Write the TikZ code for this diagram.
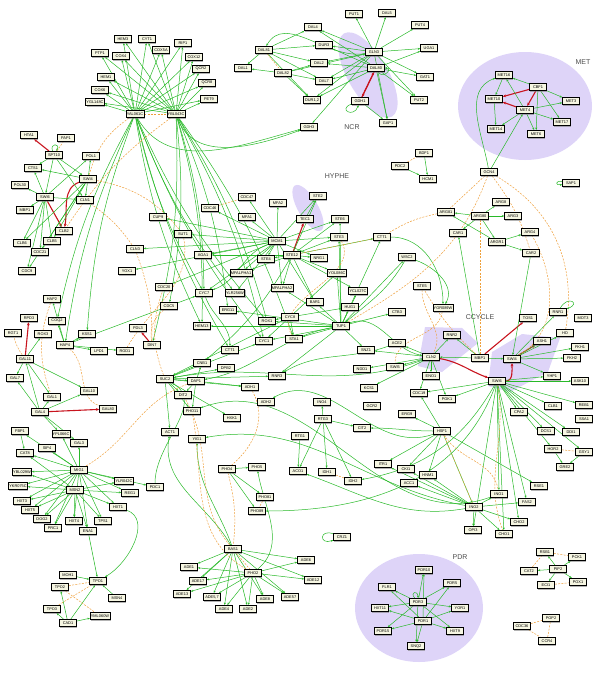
\documentclass[tikz,border=0pt]{standalone}
\usepackage{fontspec}
\setmainfont{Liberation Sans}
\usetikzlibrary{shadows,arrows.meta}
\pgfdeclarelayer{back}\pgfdeclarelayer{mid}
\pgfsetlayers{back,mid,main}
\definecolor{lav}{RGB}{222,212,248}
\definecolor{eg}{RGB}{40,185,40}
\definecolor{eo}{RGB}{238,160,60}
\definecolor{er}{RGB}{200,20,30}
\definecolor{cream}{RGB}{246,246,226}
\newcommand\fanout[3]{\foreach \t in {#3} \draw[#1] (#2) to (\t);}
\begin{document}
\begin{tikzpicture}[x=1pt,y=-1pt,
 n/.style={draw=black,line width=0.6pt,fill=cream,inner sep=0.8pt,minimum height=7.5pt,minimum width=17pt,font=\fontsize{3.9}{4.5}\selectfont,drop shadow={shadow xshift=0.9pt,shadow yshift=-0.9pt,opacity=0.6}},
 e/.style={draw=eg,line width=0.5pt,-{Stealth[length=2.4pt,width=2pt]}},
 d/.style={draw=eo,line width=0.5pt,dash pattern=on 2pt off 1.3pt},
 r/.style={draw=er,line width=1.1pt,-{Stealth[length=3.2pt,width=2.8pt]}},
 lbl/.style={font=\fontsize{7}{8}\selectfont,text=black!70}]
\useasboundingbox (0,0) rectangle (600,673);
\begin{pgfonlayer}{back}
\fill[lav] (525,106) ellipse [x radius=67,y radius=54];
\fill[lav,rotate around={-60:(368,75)}] (368,75) ellipse [x radius=48,y radius=20];
\fill[lav,rotate around={-60:(308,208)}] (308,208) ellipse [x radius=26,y radius=10];
\fill[lav] (419,608) ellipse [x radius=64,y radius=54];
\fill[lav] (425,327)--(462,328)--(478,343)--(442,372)--(418,366)--cycle;
\fill[lav] (492,352)--(522,334)--(560,338)--(548,372)--(510,392)--(488,386)--cycle;
\end{pgfonlayer}
\node[lbl] (tMET) at (583,62) {MET};
\node[lbl] (tNCR) at (352,127) {NCR};
\node[lbl] (tHYP) at (337,176) {HYPHE};
\node[lbl] (tCC) at (480,317) {CCYCLE};
\node[lbl] (tPDR) at (460,557) {PDR};
% nodes
\node[n](HEMa)at(123,39){HEM3};\node[n](CYT1)at(147,39){CYT1};\node[n](RIP1)at(183,43){RIP1};
\node[n](PTP1)at(100,53){PTP1};\node[n](COX4)at(121,56){COX4};\node[n](COX5)at(161,50){COX5A};
\node[n](COX2)at(194,57){COX12};\node[n](QCR2)at(201,69){QCR2};\node[n](QCR8)at(207,83){QCR8};
\node[n](PET9)at(209,99){PET9};\node[n](HEM1)at(106,77){HEM1};\node[n](COX6)at(100,90){COX6};
\node[n](YGL)at(95,102){YGL148C};\node[n](hA)at(135,114){YAL061C};\node[n](hB)at(176,114){YBL043C};
\node[n](HTA1)at(29,135){HTA1};\node[n](PAP1)at(66,138){PAP1};\node[n](SPT10)at(54,155){SPT10};
\node[n](POL1)at(91,156){POL1};\node[n](CTS1)at(33,168){CTS1};\node[n](SWIa)at(88,179){SWI4};
\node[n](POL30)at(20,185){POL30};\node[n](SWIb)at(45,197){SWI6};\node[n](CLN1)at(85,200){CLN1};
\node[n](MBP1)at(25,210){MBP1};\node[n](CLB2)at(64,231){CLB2};\node[n](CLB6)at(22,243){CLB6};
\node[n](CLB5)at(52,241){CLB5};\node[n](CDC21)at(40,252){CDC21};\node[n](CDC9)at(27,271){CDC9};
\node[n](DAL81)at(264,50){DAL81};\node[n](DAL1)at(243,68){DAL1};\node[n](DAL82)at(283,73){DAL82};
\node[n](PUT1)at(354,14){PUT1};\node[n](DAL5)at(387,13){DAL5};\node[n](PUT4)at(420,25){PUT4};
\node[n](DAL4)at(313,27){DAL4};\node[n](DUR3)at(324,45){DUR3};\node[n](GLN3)at(374,52){GLN3};
\node[n](UGA1)at(429,48){UGA1};\node[n](DAL2)at(319,63){DAL2};\node[n](DAL80)at(376,68){DAL80};
\node[n](DAL7)at(324,81){DAL7};\node[n](GAT1)at(425,77){GAT1};\node[n](DUR12)at(312,100){DUR1,2};
\node[n](GDH1)at(360,101){GDH1};\node[n](PUT2)at(419,100){PUT2};\node[n](GAP1)at(388,123){GAP1};
\node[n](GDH3)at(309,127){GDH3};
\node[n](MET16)at(504,75){MET16};\node[n](CBF1)at(538,87){CBF1};\node[n](MET10)at(494,99){MET10};
\node[n](MET3)at(571,101){MET3};\node[n](MET4)at(525,110){MET4};\node[n](MET17)at(562,122){MET17};
\node[n](MET14)at(496,129){MET14};\node[n](MET6)at(536,134){MET6};\node[n](GCN4)at(489,172){GCN4};
\node[n](SDP1)at(424,153){BDF1};\node[n](PEO1)at(400,166){PDC2};\node[n](HCM1)at(428,179){HCM1};
\node[n](SAP1)at(571,183){SAP1};
\node[n](STE2)at(318,196){STE2};\node[n](TEC1)at(305,219){TEC1};\node[n](STE6)at(340,219){STE6};
\node[n](STE3)at(339,237){STE3};\node[n](CTR1)at(382,237){CTT1};
\node[n](ARG81)at(446,212){ARG81};\node[n](ARG8)at(501,202){ARG8};\node[n](ARG80)at(480,216){ARG80};
\node[n](ARG3)at(513,216){ARG3};\node[n](CAR1)at(458,233){CAR1};\node[n](ARG4)at(530,232){ARG4};
\node[n](ARG82)at(497,242){ARGR1};\node[n](CAR2)at(531,253){CAR2};
\node[n](CUP9)at(158,217){CUP9};\node[n](CDC46)at(210,208){CDC46};\node[n](CDC47)at(247,197){CDC47};
\node[n](MFA2)at(278,203){MFA2};\node[n](MFA1)at(247,217){MFA1};\node[n](SUT1)at(183,234){SUT1};
\node[n](MCM1)at(277,241){MCM1};\node[n](AGA1)at(203,255){AGA1};\node[n](STE12)at(292,255){STE12};
\node[n](STE4)at(266,259){STE4};\node[n](NRG1)at(319,258){NRG1};\node[n](CLN3)at(135,249){CLN3};
\node[n](YOX1)at(127,271){YOX1};\node[n](MFa1)at(241,273){MFALPHA1};\node[n](YOL86)at(337,273){YOL086C};
\node[n](MFa2)at(282,288){MFALPHA2};\node[n](CDC20)at(164,287){CDC20};\node[n](CYC7)at(204,293){CYC7};
\node[n](YLR256)at(235,293){YLR256W};\node[n](WSC2)at(407,257){WSC2};\node[n](YCL27)at(358,291){YCL027C};
\node[n](CTB4)at(422,286){STE5};\node[n](HAP2)at(52,299){HAP2};\node[n](CDC5)at(169,306){CDC5};
\node[n](BAR1)at(315,302){BAR1};\node[n](HUG1)at(350,307){HUG1};\node[n](ERG11)at(228,310){ERG11};
\node[n](YGR89)at(443,308){YGR089W};\node[n](CTB3)at(397,312){CTB3};
\node[n](RPD3)at(29,318){RPD3};\node[n](CYC8)at(290,317){CYC8};\node[n](ROX1)at(267,321){ROX1};
\node[n](COQ2)at(57,321){COQ2};\node[n](HEM13)at(202,326){HEM13};\node[n](TUP1)at(341,326){TUP1};
\node[n](POL3)at(138,328){PDL3};\node[n](RGT1)at(13,333){RGT1};\node[n](ROX3)at(43,334){ROX3};
\node[n](KSS1)at(87,334){KSS1};\node[n](STA1)at(294,339){STA1};\node[n](CYC1)at(264,341){CYC1};
\node[n](HAP4)at(65,345){HAP4};\node[n](DIN7)at(152,345){DIN7};\node[n](CTA)at(230,350){CTT1};
\node[n](LPD1)at(99,351){LPD1};\node[n](RGD1)at(125,351){RGD1};\node[n](SNZ1)at(366,350){SNZ1};
\node[n](ACE2)at(397,343){ACE2};\node[n](RNR2)at(452,335){RNR2};\node[n](GAL11)at(25,359){GAL11};
\node[n](CNB1)at(202,363){CNB1};\node[n](DPB2)at(226,368){DPB2};\node[n](RNR3)at(277,376){RNR3};
\node[n](CLN2)at(431,357){CLN2};\node[n](TOS1)at(528,318){TOS1};\node[n](RNR1)at(558,312){RNR1};
\node[n](MOT3)at(583,318){MOT3};\node[n](HO)at(565,333){HO};\node[n](ASH1)at(542,341){ASH1};
\node[n](FKH1)at(580,347){FKH1};\node[n](SWI5)at(395,367){SWI5};\node[n](NDD1)at(362,369){NDD1};
\node[n](ENO1)at(431,376){ENO1};\node[n](MBPc)at(480,358){MBP1};\node[n](SWI4c)at(512,359){SWI4};
\node[n](FKH2)at(572,358){FKH2};\node[n](YHP1)at(552,376){YHP1};\node[n](SWI6c)at(497,381){SWI6};
\node[n](ASK10)at(580,381){ASK10};\node[n](GAL7)at(15,378){GAL7};\node[n](SUC2)at(165,379){SUC2};
\node[n](DAP1)at(196,381){DAP1};\node[n](ADH1)at(250,387){ADH1};\node[n](KCS1)at(369,388){KCS1};
\node[n](GAL1)at(52,397){GAL1};\node[n](GAL10)at(89,391){GAL10};\node[n](DIT2)at(183,395){DIT2};
\node[n](CDC19)at(419,393){CDC19};\node[n](PGK1)at(447,399){PGK1};\node[n](ADH2)at(266,402){ADH2};
\node[n](INO4)at(322,402){INO4};\node[n](GCR2)at(372,406){GCR2};\node[n](OPI2)at(553,406){CLB1};
\node[n](REB1)at(584,405){REB1};\node[n](GAL4)at(40,412){GAL4};\node[n](GAL80)at(108,409){GAL80};
\node[n](PHO11)at(192,411){PHO11};\node[n](CPA2)at(519,412){CPA2};\node[n](HXK1)at(232,418){HXK1};
\node[n](RTG3)at(323,419){RTG3};\node[n](ERG9)at(407,414){ERG9};\node[n](SSA1)at(584,419){SSA1};
\node[n](FBP1)at(20,431){FBP1};\node[n](YPL)at(61,434){YPL066C};\node[n](ACT1)at(170,432){ACT1};
\node[n](HSF1)at(442,431){HSF1};\node[n](DCS1)at(546,431){DCS1};\node[n](DDI1)at(571,432){DDI1};
\node[n](CIT2)at(362,428){CIT2};\node[n](RTG1)at(300,436){RTG1};\node[n](YIG1)at(197,439){YIG1};
\node[n](GAL3)at(79,443){GAL3};\node[n](SIP4)at(47,448){SIP4};\node[n](HOR2)at(553,449){HOR2};
\node[n](GSY1)at(584,452){GSY1};\node[n](CAT8)at(25,453){CAT8};\node[n](GRE2)at(565,467){GRE2};
\node[n](PHO4)at(227,469){PHO4};\node[n](PHO5)at(257,467){PHO5};\node[n](ACO1)at(298,471){ACO1};
\node[n](IDH1)at(327,472){IDH1};\node[n](IDH2)at(353,481){IDH2};\node[n](MIG1)at(79,470){MIG1};
\node[n](YBL29)at(22,472){YBL029W};\node[n](ITR1)at(383,464){ITR1};\node[n](CKI1)at(406,469){CKI1};
\node[n](HNM1)at(428,475){HNM1};\node[n](ACC1)at(409,483){ACC1};\node[n](YLR42)at(124,481){YLR042C};
\node[n](YKR75)at(18,486){YKR075C};\node[n](PDC1)at(155,487){PDC1};\node[n](MSN2)at(75,490){MSN2};
\node[n](REG1)at(130,493){REG1};\node[n](INO1)at(499,494){INO1};\node[n](PHO81)at(265,497){PHO81};
\node[n](RSC2)at(539,486){RSE1};\node[n](HXT3)at(22,501){HXT3};\node[n](INO2)at(474,507){INO2};
\node[n](FAS2)at(527,502){FAS2};\node[n](HXT1)at(118,507){HXT1};\node[n](HXT5)at(30,510){HXT5};
\node[n](PHO89)at(257,511){PHO89};\node[n](DOG2)at(42,519){DOG2};\node[n](HXT4)at(74,521){HXT4};
\node[n](TPS1)at(103,521){TPS1};\node[n](CHO2)at(519,522){CHO2};\node[n](PRC1)at(53,528){PRC1};
\node[n](ENA1)at(88,531){ENA1};\node[n](OPI3)at(473,530){OPI3};\node[n](CHO1)at(504,534){CHO1};
\node[n](CIN5)at(342,537){CRZ1};\node[n](BAS1)at(233,549){BAS1};\node[n](RSB1)at(545,552){RSB1};
\node[n](PCK1)at(577,557){PCK1};\node[n](ADE6)at(306,560){ADE6};\node[n](ADE1)at(189,567){ADE1};
\node[n](PIP2)at(558,569){PIP2};\node[n](CAT2)at(529,571){CAT2};\node[n](PHO2)at(253,573){PHO2};
\node[n](PDR10)at(424,570){PDR10};\node[n](MOH1)at(68,575){MOH1};\node[n](TPO1)at(98,581){TPO1};
\node[n](ADE17)at(198,581){ADE17};\node[n](ADE12)at(313,580){ADE12};\node[n](ECI1)at(546,585){ECI1};
\node[n](POX1)at(578,582){POX1};\node[n](PDR5)at(452,583){PDR5};\node[n](FLR1)at(387,587){FLR1};
\node[n](TPO2)at(60,587){TPO2};\node[n](ADE13)at(182,594){ADE13};\node[n](ADE5)at(212,597){ADE5,7};
\node[n](ADE57)at(290,597){ADE57};\node[n](ADE8)at(265,599){ADE8};\node[n](MSN4)at(117,598){MSN4};
\node[n](PDR3)at(418,602){PDR3};\node[n](YOR1)at(460,608){YOR1};\node[n](HXT11)at(380,608){HXT11};
\node[n](TPO3)at(52,609){TPO3};\node[n](ADE4)at(224,609){ADE4};\node[n](ADE2)at(248,609){ADE2};
\node[n](YML)at(100,616){YML060W};\node[n](POP2)at(551,618){POP2};\node[n](PDR1)at(423,621){PDR1};
\node[n](CAD1)at(68,623){CAD1};\node[n](CDC36)at(522,626){CDC36};\node[n](HXT9)at(455,631){HXT9};
\node[n](PDR15)at(383,631){PDR15};\node[n](CCR4)at(547,641){CCR4};\node[n](SNQ2)at(416,646){SNQ2};
\begin{pgfonlayer}{mid}
\fanout{e}{hA}{HEMa,CYT1,PTP1,COX4,COX5,RIP1,COX2,QCR2,QCR8,PET9,HEM1,COX6,YGL}
\fanout{e}{hB}{HEMa,CYT1,PTP1,COX4,COX5,RIP1,COX2,QCR2,QCR8,PET9,HEM1,COX6,YGL}
\fanout{e,bend right=8}{hA}{CYC7,HAP4,KSS1,COQ2,CTA,HEM13,ROX1,YLR256,CYC1}
\fanout{e,bend left=8}{hB}{CYC7,CDC5,ERG11,HEM13,ROX1,CYC1,DIN7,STA1}
\draw[e] (hB) to[out=-70,in=200] (GDH3);
\draw[e] (hA) to[out=-60,in=195] (GDH3);
\draw[d] (hA) -- (hB);
\draw[d] (hA) to[bend right=20] (SWIa);\draw[d] (hB) to[bend right=10] (CLB2);
\draw[r] (SPT10) -- (HTA1);
\draw[e] (SPT10) to[out=110,in=60,looseness=6] (SPT10);
\draw[d] (SPT10) -- (PAP1);
\draw[r] (SWIa) to[out=200,in=80] (CLB2);\draw[r] (SWIb) -- (CLB2);
\fanout{e}{SPT10}{CTS1,SWIb,SWIa,CLN1}
\fanout{e}{SWIb}{POL30,MBP1,CLB6,CLB5,CDC21,CDC9,CLN1,CTS1,POL1}
\fanout{e}{SWIa}{POL1,CLN1,CLB5,CDC21,CLB6,CTS1,CDC9}
\draw[d] (SWIa) to[bend left=20] (SUT1);\draw[d] (CLN1) to[bend left=10] (CLN3);
\fanout{e}{GLN3}{PUT1,DAL5,PUT4,DAL4,DUR3,UGA1,DAL2,DAL7,GAT1,DUR12,PUT2,GAP1,GDH3}
\fanout{e}{DAL80}{DAL4,DUR3,DAL2,DAL7,DUR12,GAT1,PUT2,GAP1,UGA1}
\draw[r] (DAL80) -- (GDH1);\draw[r] (GDH1) -- (DAL80);
\draw[e] (GDH1) to[out=200,in=250,looseness=5] (GDH1);\draw[e] (GDH1) -- (GAP1);
\fanout{e}{DAL81}{DAL1,DAL4,DUR3,DAL2,DAL7,DUR12}
\fanout{e}{DAL82}{DAL1,DAL2,DAL7,DUR12,GLN3}
\draw[e] (GLN3) to[out=190,in=60] (DAL81);\draw[d] (DAL81) -- (DAL82);
\draw[e] (DAL80) to[out=-60,in=0,looseness=3] (DAL80);
\draw[r] (CBF1) -- (MET10);\draw[r] (CBF1) -- (MET4);\draw[r] (MET4) -- (MET10);
\fanout{e}{CBF1}{MET16,MET3,MET17,MET6}
\fanout{e}{MET4}{MET16,MET14,MET3,MET17,MET6}
\draw[e] (MET16) -- (MET10);\draw[e] (MET10) -- (MET14);
\draw[e] (GCN4) to[out=100,in=200] (MET16);\draw[e] (GCN4) -- (MET4);
\draw[d] (GCN4) -- (ARG81);\draw[d] (GCN4) to[bend left=10] (CAR2);
\draw[d] (GCN4) to[out=-30,in=80] (HO);
\draw[e] (SDP1) -- (HCM1);\draw[e] (PEO1) -- (HCM1);\draw[d] (PEO1) -- (SDP1);
\draw[e] (SAP1) to[out=170,in=190,looseness=6] (SAP1);
\fanout{e}{ARG80}{ARG81,ARG8,ARG3,CAR1,ARG82}
\fanout{e}{ARG82}{CAR2,ARG4,ARG81}
\draw[d] (ARG81) to[bend right=10] (CTR1);
\fanout{e}{MCM1}{CDC47,CDC46,MFA2,MFA1,STE2,STE6,STE3,AGA1,SUT1,MFa1,MFa2,CUP9,STE4,CLN3,YOX1,CDC20,CYC7,YLR256,BAR1,NRG1}
\draw[r] (STE12) -- (TEC1);
\fanout{e}{STE12}{STE2,STE6,STE3,NRG1,MFa2,BAR1,YOL86,MFa1,STE4,AGA1,YCL27,CTR1}
\draw[e] (TEC1) -- (STE2);
\draw[d] (CDC46) -- (CDC47);\draw[d] (STE12) -- (CTR1);
\fanout{e}{TUP1}{STE6,STE3,YOL86,YCL27,HUG1,CTB3,BAR1,STA1,CYC1,ROX1,SNZ1,RNR3,ERG11,HEM13,MFa2,CTR1,WSC2}
\fanout{e}{CYC8}{STA1,ROX1,HUG1,YOL86,CYC1,SUC2}
\draw[e] (WSC2) to[out=-20,in=60] (YGR89);\draw[e] (CTR1) to[out=0,in=90] (YGR89);
\draw[e] (TUP1) to[out=20,in=170] (CLN2);
\draw[r] (CLN2) to[out=-10,in=160] (SWI6c);
\draw[r] (MBPc) -- (TOS1);
\draw[r] (SWI6c) to[out=0,in=-90] (SWI4c);
\draw[r] (SWI4c) -- (ASH1);
\draw[e] (RNR1) to[out=60,in=20,looseness=6] (RNR1);
\fanout{e}{SWI4c}{HO,FKH1,FKH2,YHP1,ASH1,RNR1}
\fanout{e}{MBPc}{RNR2,SWI4c,CLN2}
\fanout{e}{SWI6c}{OPI2,CPA2,YHP1,DCS1,INO1,FAS2,CHO2,CHO1,OPI3,REB1,DDI1,ASK10,HOR2,GSY1,PGK1,CDC19}
\fanout{e}{CLN2}{RNR2,SWI5,NDD1,ENO1,ACE2,KCS1,CDC19,PGK1,SNZ1}
\draw[e] (MBPc) -- (CAR1);\draw[e] (CAR2) -- (SWI4c);
\draw[d] (MBPc) -- (ARG80);\draw[d] (MBPc) to[bend left=8] (CTB4);
\draw[r] (GAL4) -- (GAL80);\draw[r] (GAL11) -- (RPD3);
\fanout{e}{GAL4}{GAL1,GAL7,GAL10,GAL11,GAL3}
\fanout{e}{GAL11}{ROX3,GAL7,GAL1,GAL10}
\fanout{e}{HAP4}{LPD1,KSS1,HAP2,COQ2,RGD1,CYC7}
\draw[r] (DIN7) -- (POL3);
\fanout{e}{SUC2}{DAP1,ADH1,DIT2,CNB1,DPB2,PHO11,ACT1,RNR3,CYC1,HXK1}
\fanout{e}{DAP1}{ADH1,DIT2,CNB1,PHO11}
\draw[d] (SUC2) to[bend left=20] (CDC20);\draw[d] (DIN7) to[bend left=30] (CDC5);
\draw[d] (GAL11) to[bend left=10] (RGT1);\draw[d] (HAP2) to[bend right=20] (GAL1);
\fanout{e}{RTG3}{CIT2,ACO1,IDH1,IDH2,INO4}
\draw[e] (RTG1) -- (ACO1);\draw[d] (IDH1) -- (IDH2);
\fanout{e}{INO2}{ITR1,CKI1,HNM1,ACC1,INO1,FAS2,CHO2,CHO1,OPI3}
\fanout{e}{HSF1}{ITR1,CKI1,HNM1,INO2,ERG9,CDC19,RSC2}
\draw[e] (INO2) to[out=170,in=10] (YIG1);\draw[e] (INO1) to[out=200,in=20] (PHO11);
\draw[e] (HSF1) to[out=200,in=30] (ADH2);
\draw[d] (HSF1) -- (INO2);
\draw[e] (HOR2) -- (GRE2);\draw[d] (HOR2) -- (GSY1);\draw[e] (GSY1) -- (GRE2);
\fanout{e}{MIG1}{CAT8,SIP4,GAL3,YBL29,YKR75,HXT3,HXT5,DOG2,PRC1,HXT4,ENA1,TPS1,HXT1,REG1,YLR42,FBP1,YPL,PDC1}
\fanout{e}{MSN2}{CAT8,YBL29,YKR75,HXT3,HXT5,DOG2,PRC1,HXT4,ENA1,TPS1,HXT1,REG1,YLR42}
\draw[e] (GAL4) -- (YPL);\draw[e] (FBP1) -- (CAT8);
\draw[e] (PDC1) to[out=90,in=-30] (SUC2);
\draw[e] (HXT1) to[out=-20,in=30] (TPO1);
\draw[e] (ENA1) -- (TPO1);
\fanout{e}{CAD1}{TPO2,TPO3,TPO1,YML}
\draw[e] (MOH1) -- (TPO1);\draw[e] (MSN4) -- (TPO1);
\draw[d] (TPO2) -- (TPO1);\draw[d] (TPO2) -- (YML);\draw[d] (TPO3) -- (TPO1);
\fanout{e}{PHO4}{PHO5,PHO81,PHO89}
\draw[d] (PHO81) -- (PHO89);
\fanout{e}{BAS1}{ADE1,ADE17,ADE13,ADE5,ADE4,ADE2,ADE8,ADE57,ADE6,ADE12}
\fanout{e}{PHO2}{ADE1,ADE17,ADE13,ADE5,ADE4,ADE2,ADE8,ADE57,ADE6,ADE12}
\draw[d] (BAS1) -- (PHO2);
\draw[d] (PHO4) to[bend left=10] (BAS1);
\draw[e] (PHO2) to[out=40,in=-80] (PHO5);
\draw[e] (BAS1) to[out=120,in=-100] (ACT1);\draw[e] (BAS1) to[out=110,in=-90] (YIG1);
\draw[d] (BAS1) to[out=130,in=-60] (DIT2);
\draw[e] (CIN5) to[out=160,in=200,looseness=6] (CIN5);
\fanout{e}{PDR3}{PDR10,PDR5,FLR1,YOR1,HXT11,PDR15,HXT9,SNQ2}
\fanout{e}{PDR1}{PDR10,PDR5,FLR1,YOR1,HXT11,PDR15,HXT9,SNQ2}
\draw[e] (PDR3) to[out=130,in=90,looseness=6] (PDR3);
\fanout{e}{PIP2}{RSB1,PCK1,CAT2,ECI1,POX1}
\draw[d] (RSB1) -- (PCK1);\draw[d] (ECI1) -- (POX1);\draw[d] (CAT2) -- (RSB1);
\draw[d] (CDC36) -- (POP2);\draw[d] (POP2) -- (CCR4);\draw[d] (CDC36) -- (CCR4);
\draw[e] (SWI6c) to[out=-110,in=0] (PHO89);
\draw[e] (SWI6c) to[out=-120,in=10] (IDH2);
\draw[e] (CLN2) to[out=200,in=10] (SUC2);
\draw[e] (TUP1) to[out=190,in=10] (DAP1);
\draw[e] (MCM1) to[out=200,in=20] (CYC7);
\draw[e] (STE12) to[out=-120,in=40] (CNB1);
\draw[d] (GCN4) to[out=250,in=30] (TUP1);
\draw[d] (CTB4) to[out=-90,in=60] (CLN2);
\draw[d] (YGR89) to[out=-100,in=90] (SWI5);
\draw[d] (STE3) to[out=-60,in=120] (STA1);
\draw[d] (SUT1) to[out=-80,in=60] (RGD1);
\draw[d] (CLN3) to[out=-70,in=90] (DIN7);
\draw[d] (HAP4) to[out=-40,in=160] (GAL80);
\draw[d] (ADH1) to[out=-60,in=40] (PHO4);
\draw[d] (SWI6c) to[out=-80,in=110] (CHO1);
\draw[d] (HSF1) to[out=-60,in=100] (INO1);
\draw[d] (MIG1) to[out=30,in=200] (DAP1);
\draw[d] (PHO11) to[out=-80,in=150] (PHO2);
\draw[d] (SWI4c) to[out=30,in=-60] (ARG4);
\draw[e] (WSC2) to[out=-120,in=40] (TUP1);
\draw[e] (CYC7) to[out=-70,in=90] (CTA);
\draw[e] (ACE2) to[out=200,in=30] (RNR3);
\draw[e] (HSF1) to[out=180,in=0] (CIT2);
\draw[e] (INO2) to[out=190,in=-20] (ACO1);
\end{pgfonlayer}
\end{tikzpicture}
\end{document}
